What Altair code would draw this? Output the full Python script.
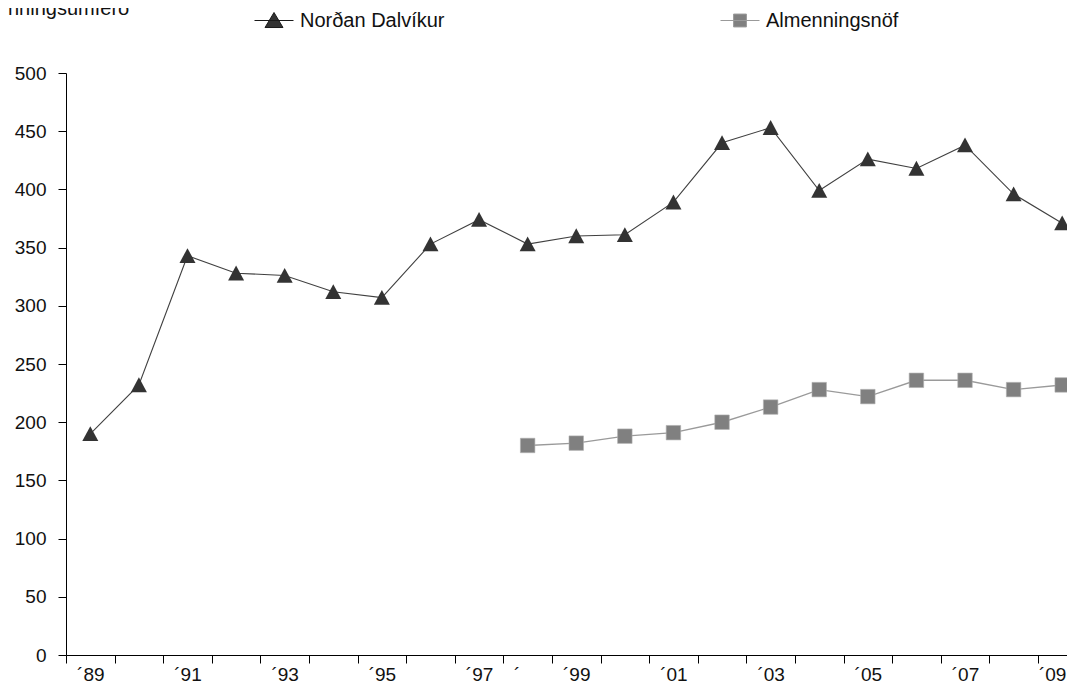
import altair as alt
import pandas as pd

# ---- data ----
years = list(range(1989, 2010))
nordan = [190, 232, 343, 328, 326, 312, 307, 353, 374, 353, 360, 361,
          389, 440, 453, 399, 426, 418, 438, 396, 371]
alm_years = list(range(1998, 2010))
alm = [180, 182, 188, 191, 200, 213, 228, 222, 236, 236, 228, 232]
series_names = ["Norðan Dalvíkur", "Almenningsnöf"]
y_ticks = list(range(0, 501, 50))
x_labels = ["´89", "", "´91", "", "´93", "", "´95", "", "´97", "´",
            "´99", "", "´01", "", "´03", "", "´05", "", "´07", "", "´09"]
title_text = "nningsumferð"

rows = [{"year": y, "series": series_names[0], "value": v} for y, v in zip(years, nordan)]
rows += [{"year": y, "series": series_names[1], "value": v} for y, v in zip(alm_years, alm)]
df = pd.DataFrame(rows)

FONT = "Liberation Sans"

label_expr = ""
for y, lab in zip(years, x_labels):
    label_expr += f"datum.value == {y} ? '{lab}' : "
label_expr += "''"

x_enc = alt.X(
    "year:O",
    scale=alt.Scale(type="band", domain=years, range=[0, 1020.5], paddingInner=0, paddingOuter=0),
    axis=alt.Axis(
        title=None,
        labelExpr=label_expr,
        labelAngle=0,
        labelOffset={"condition": [{"test": "datum.value == 1998", "value": -11},
                                   {"test": "datum.value == 2009", "value": -10}], "value": 0},
        tickBand="extent",
        tickSize=8,
        labelPadding=2,
        labelOverlap=False,
        labelFlush=False,
        domainColor="#000000",
        tickColor="#000000",
        grid=False,
    ),
)
y_enc = alt.Y(
    "value:Q",
    scale=alt.Scale(domain=[0, 500], nice=False),
    axis=alt.Axis(
        values=y_ticks,
        title=None,
        tickSize=8,
        labelPadding=12,
        labelFlush=False,
        domainColor="#000000",
        tickColor="#000000",
        grid=False,
    ),
)

base = alt.Chart(df)

line1 = base.transform_filter(alt.datum.series == series_names[0]).mark_line(
    color="#404040", strokeWidth=1.1
).encode(x=x_enc, y=y_enc)
line2 = base.transform_filter(alt.datum.series == series_names[1]).mark_line(
    color="#9a9a9a", strokeWidth=1.4
).encode(x=x_enc, y=y_enc)

tri_path = "M0,-0.95L1,0.9L-1,0.9Z"
pts1 = base.transform_filter(alt.datum.series == series_names[0]).mark_point(
    shape=tri_path, filled=True, size=256, color="#333333", opacity=1
).encode(x=x_enc, y=y_enc)
pts2 = base.transform_filter(alt.datum.series == series_names[1]).mark_point(
    shape="square", filled=True, size=210, color="#808080", opacity=1,
    stroke="#b0b0b0", strokeWidth=0.6
).encode(x=x_enc, y=y_enc)

leg_tri = "M-1,0L1,0M0,-0.41L0.46,0.36L-0.46,0.36Z"
leg_sq = "M-1,0L1,0M-0.33,-0.33L0.33,-0.33L0.33,0.33L-0.33,0.33Z"
leg = alt.Legend(
    title=None, orient="none", legendX=188, legendY=-72.5, direction="horizontal",
    columns=2, columnPadding=273, symbolSize=1521, symbolStrokeWidth=1,
    symbolOpacity=1, labelOffset=6, labelFontSize=20, labelFont=FONT,
    labelColor="#111111", padding=0, labelLimit=400,
)
legend_layer = base.transform_filter("datum.value < 0").mark_point(filled=True).encode(
    x=x_enc, y=y_enc,
    fill=alt.Fill("series:N", scale=alt.Scale(domain=series_names, range=["#333333", "#808080"]), legend=leg),
    stroke=alt.Stroke("series:N", scale=alt.Scale(domain=series_names, range=["#1a1a1a", "#9a9a9a"]), legend=leg),
    shape=alt.Shape("series:N", scale=alt.Scale(domain=series_names, range=[leg_tri, leg_sq]), legend=leg),
)

title_layer = alt.Chart(pd.DataFrame({"t": [title_text]})).mark_text(
    align="left", baseline="alphabetic", fontSize=20, font=FONT, color="#111111"
).encode(text="t:N", x=alt.value(-58), y=alt.value(-58.3))

chart = alt.layer(line1, line2, pts1, pts2, legend_layer, title_layer).properties(
    width=1001, height=582,
    padding={"left": 58, "top": 65, "right": 0, "bottom": 29},
    autosize=alt.AutoSizeParams(type="none"),
).configure_view(stroke=None).configure_axis(
    labelFont=FONT, labelFontSize=19, labelColor="#111111"
)

chart.save("out.html", embed_options={"renderer": "svg", "actions": False})
